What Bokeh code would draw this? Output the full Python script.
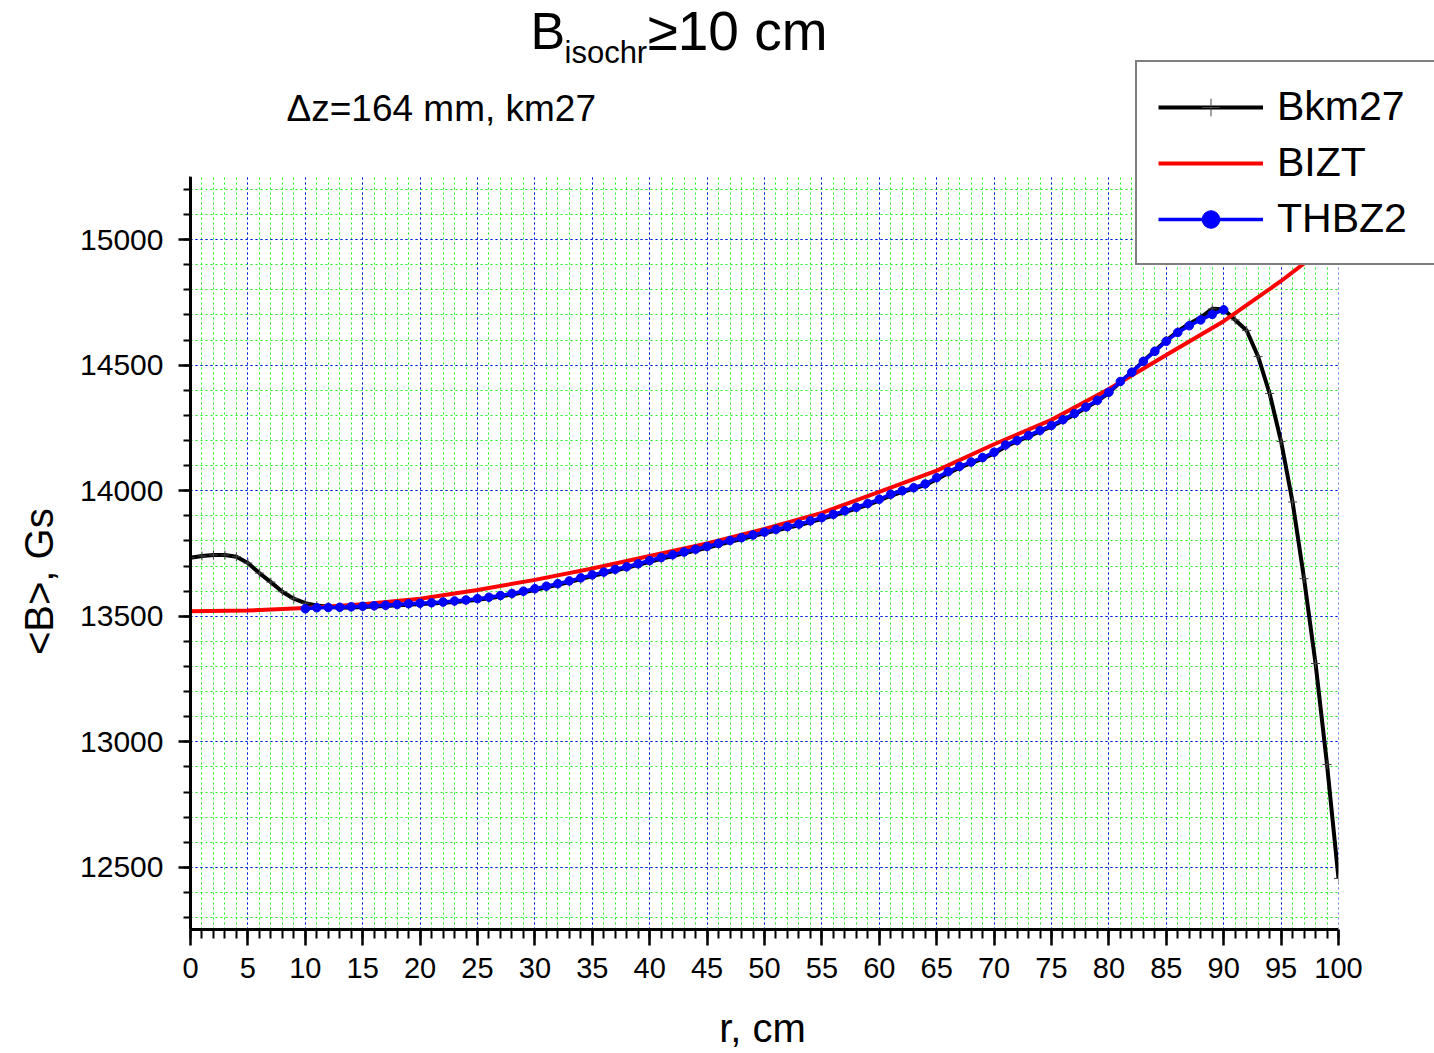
from bokeh.plotting import figure
from bokeh.models import (Range1d, SingleIntervalTicker, Legend, LegendItem,
                          Label, BoxAnnotation)
from bokeh.embed import file_html
from bokeh.resources import INLINE

# ---- data -------------------------------------------------------------
# Bkm27: averaged field, 1 cm step, r = 0..100 cm
r_bkm27 = list(range(0, 101))
b_bkm27 = [
    13733, 13740, 13744, 13744, 13737, 13712, 13672, 13636, 13598, 13570,
    13552, 13543, 13538, 13534, 13535, 13537, 13539, 13541, 13544, 13546,
    13549, 13551, 13554, 13557, 13561, 13566, 13572, 13579, 13587, 13596,
    13605, 13615, 13625, 13636, 13648, 13660, 13671, 13682, 13693, 13705,
    13717, 13729, 13740, 13751, 13762, 13773, 13785, 13797, 13808, 13819,
    13830, 13841, 13852, 13862, 13875, 13888, 13901, 13915, 13929, 13944,
    13961, 13980, 13995, 14008, 14022, 14046, 14070, 14092, 14110, 14128,
    14148, 14176, 14196, 14216, 14236, 14256, 14279, 14303, 14330, 14357,
    14390, 14433, 14472, 14516, 14557, 14598, 14635, 14665, 14690, 14724,
    14722, 14680, 14638, 14534, 14387, 14196, 13955, 13650, 13312, 12910,
    12456,
]

# BIZT: isochronous field, 5 cm step
r_bizt = [0, 5, 10, 15, 20, 25, 30, 35, 40, 45, 50,
          55, 60, 65, 70, 75, 80, 85, 90, 95, 100]
b_bizt = [13520, 13523, 13533, 13548, 13570, 13605, 13645, 13690, 13740, 13790, 13848,
          13912, 13995, 14080, 14185, 14282, 14405, 14540, 14675, 14835, 15010]

# THBZ2: 1 cm step, r = 10..90 cm
r_thbz2 = list(range(10, 91))
b_thbz2 = [
    13530, 13534, 13535, 13536, 13538, 13540, 13542, 13544, 13547, 13550,
    13552, 13554, 13557, 13561, 13565, 13570, 13576, 13583, 13591, 13600,
    13610, 13620, 13630, 13641, 13653, 13665, 13676, 13687, 13697, 13709,
    13722, 13734, 13745, 13756, 13767, 13778, 13790, 13802, 13813, 13824,
    13835, 13846, 13857, 13867, 13880, 13893, 13906, 13920, 13934, 13949,
    13966, 13986, 14000, 14012, 14027, 14052, 14076, 14097, 14114, 14132,
    14153, 14182, 14200, 14220, 14240, 14260, 14283, 14307, 14333, 14360,
    14392, 14435, 14472, 14515, 14555, 14595, 14630, 14657, 14680, 14702,
    14720,
]

series_names = ["Bkm27", "BIZT", "THBZ2"]

# ---- layout -----------------------------------------------------------
W, H = 1434, 1053
# plot box (axes area) in canvas pixels and its data limits
PL, PR, PT, PB = 190, 1338, 176, 929
X0, X1 = 0, 100
Y0, Y1 = 12253, 15251
FONT = "Liberation Sans"
NBSP = "\u00a0"

# the frame spans everything right of the y axis and above the x axis,
# so that title, note and legend can sit in the upper/right margins
sx = (PR - PL) / (X1 - X0)
sy = (PB - PT) / (Y1 - Y0)
XE = X1 + (W - PR) / sx
YE = Y1 + PT / sy


def at_x(px):
    return X0 + (px - PL) / sx


def at_y(py):
    return Y0 + (PB - py) / sy


p = figure(width=W, height=H,
           x_range=Range1d(X0, XE), y_range=Range1d(Y0, YE),
           output_backend="svg", toolbar_location=None,
           min_border_left=PL, min_border_right=0,
           min_border_top=0, min_border_bottom=H - PB)
p.outline_line_color = None
p.background_fill_color = "white"
p.border_fill_color = "white"

# ---- axes -------------------------------------------------------------
xt = SingleIntervalTicker(interval=5, num_minor_ticks=5)
yt = SingleIntervalTicker(interval=500, num_minor_ticks=5)
p.xaxis.ticker = xt
p.yaxis.ticker = yt
p.xgrid.ticker = xt
p.ygrid.ticker = yt
p.xaxis.bounds = (X0, X1)
p.yaxis.bounds = (Y0, Y1)
p.xgrid.bounds = (X0, X1)
p.ygrid.bounds = (Y0, Y1)

for ax in (p.xaxis[0], p.yaxis[0]):
    ax.axis_line_width = 3
    ax.axis_line_color = "black"
    ax.major_tick_line_width = 2.5
    ax.minor_tick_line_width = 2
    ax.major_tick_in = 0
    ax.minor_tick_in = 0
    ax.major_label_text_font = FONT
    ax.major_label_text_color = "black"
    ax.axis_label_text_font = FONT
    ax.axis_label_text_font_size = "40px"
    ax.axis_label_text_font_style = "normal"
    ax.axis_label_text_color = "black"

# axis labels are centred on the frame; trailing no-break spaces move
# the visible words to the middle of the plot box
p.xaxis.major_tick_out = 16
p.xaxis.minor_tick_out = 9
p.xaxis.major_label_standoff = 12
p.xaxis.major_label_text_font_size = "29px"
p.xaxis.axis_label = "r, cm" + NBSP * 9
p.xaxis.axis_label_standoff = 25

p.yaxis.major_tick_out = 12
p.yaxis.minor_tick_out = 7
p.yaxis.major_label_standoff = 15
p.yaxis.major_label_text_font_size = "30px"
p.yaxis.axis_label = "<B>, Gs" + NBSP * 21
p.yaxis.axis_label_standoff = 16

for g in (p.xgrid[0], p.ygrid[0]):
    g.grid_line_color = "#0000ff"
    g.grid_line_dash = "2 3"
    g.grid_line_width = 1
    g.minor_grid_line_color = "#22ee22"
    g.minor_grid_line_dash = "2 3"
    g.minor_grid_line_width = 1

# ---- series -----------------------------------------------------------
l_bk = p.line(r_bkm27, b_bkm27, line_color="black", line_width=4)
m_bk = p.scatter(r_bkm27, b_bkm27, marker="cross", size=9,
                 line_color="#444444", line_width=1)
l_rd = p.line(r_bizt, b_bizt, line_color="#ff0000", line_width=4)
l_bl = p.line(r_thbz2, b_thbz2, line_color="#0000ff", line_width=3.5)
m_bl = p.scatter(r_thbz2, b_thbz2, marker="circle", size=8.5,
                 fill_color="#0000ff", line_color="#0000ff")

# white margins above and right of the plot box hide the grid there
pad_x = (XE - X0) * 0.05
pad_y = (YE - Y0) * 0.05
p.add_layout(BoxAnnotation(left=X0 - pad_x, right=XE + pad_x,
                           bottom=Y1, top=YE + pad_y,
                           fill_color="white", fill_alpha=1, line_alpha=0))
p.add_layout(BoxAnnotation(left=X1, right=XE + pad_x,
                           bottom=Y0, top=YE + pad_y,
                           fill_color="white", fill_alpha=1, line_alpha=0))


def put(px, py, text, size):
    p.add_layout(Label(x=at_x(px), y=at_y(py), x_units="data", y_units="data",
                       text=text, text_font=FONT, text_font_size=size,
                       text_color="black", text_align="left",
                       text_baseline="alphabetic"))


put(530, 30, "B", "52px")
put(564, 52, "isochr", "31px")
put(647, 30, "\u226510 cm", "55px")
put(286, 108, "\u0394z=164 mm, km27", "37px")

legend = Legend(items=[
    LegendItem(label=series_names[0], renderers=[l_bk, m_bk]),
    LegendItem(label=series_names[1], renderers=[l_rd]),
    LegendItem(label=series_names[2], renderers=[l_bl, m_bl]),
], location=(1135 - PL, PB - 265))
legend.border_line_color = "black"
legend.border_line_width = 2
legend.background_fill_color = "white"
legend.background_fill_alpha = 1
legend.label_text_font = FONT
legend.label_text_font_size = "41px"
legend.label_text_color = "black"
legend.glyph_width = 105
legend.glyph_height = 44
legend.label_height = 44
legend.label_width = 146
legend.label_standoff = 14
legend.padding = 21
legend.spacing = 9
legend.margin = 0
p.add_layout(legend)

open("out.html", "w").write(file_html(p, INLINE))
